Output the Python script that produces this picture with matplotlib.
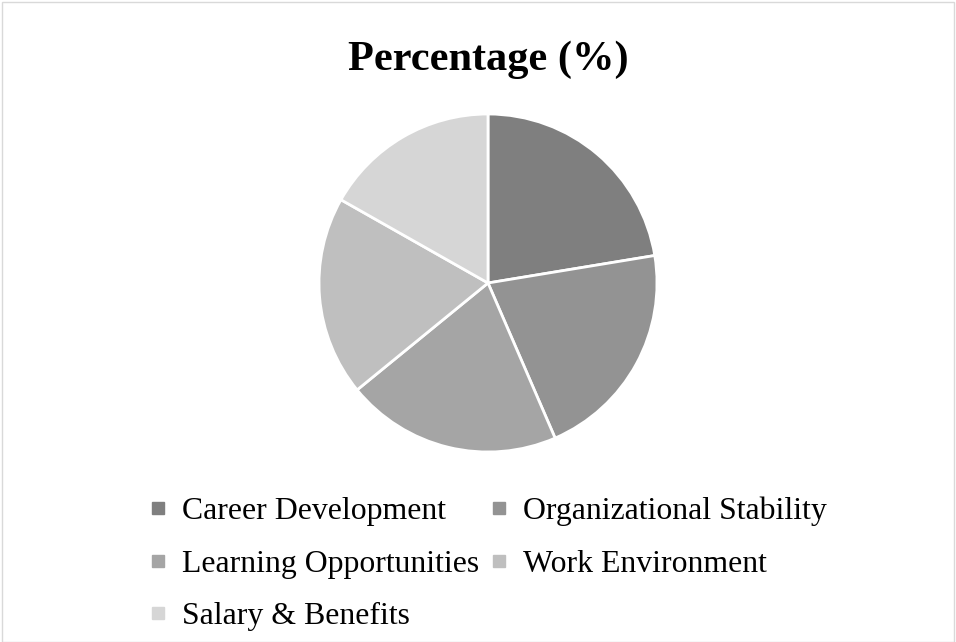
import matplotlib.pyplot as plt
from matplotlib.lines import Line2D
from matplotlib.patches import Rectangle

plt.rcParams['font.family'] = ['Liberation Serif', 'DejaVu Serif']

# data
categories = ['Career Development', 'Organizational Stability',
              'Learning Opportunities', 'Work Environment', 'Salary & Benefits']
percentages = [22.4, 21.1, 20.6, 19.1, 16.8]
colors = ['#7f7f7f', '#939393', '#a5a5a5', '#bfbfbf', '#d6d6d6']

W, H = 956, 642
fig = plt.figure(figsize=(W / 100, H / 100), dpi=100)

# light frame around the chart area
fig.patches.append(Rectangle((0.002, 0.0), 0.996, 0.997, transform=fig.transFigure,
                             fill=False, edgecolor='#d9d9d9', linewidth=1.0))

# pie axes: center (488, 283) px, radius 169 px
cx, cy, r = 488, 283, 169
ax = fig.add_axes([(cx - r) / W, (H - cy - r) / H, 2 * r / W, 2 * r / H])
ax.pie(percentages, colors=colors, startangle=90, counterclock=False, radius=1,
       wedgeprops=dict(edgecolor='white', linewidth=2.0))
ax.set_xlim(-1, 1)
ax.set_ylim(-1, 1)
ax.set_aspect('equal')
ax.axis('off')

fig.text(cx / W, 1 - 60 / H, 'Percentage (%)', ha='center', va='center',
         fontsize=30.5, fontweight='bold')

handles = [Line2D([], [], marker='s', linestyle='none', markersize=8,
                  markerfacecolor=c, markeredgecolor=c) for c in colors]
# order so that ncol=2 fills row-wise like the original
order = [0, 2, 4, 1, 3]
leg = fig.legend([handles[i] for i in order], [categories[i] for i in order],
                 loc='upper left', bbox_to_anchor=(150 / W, 1 - 497 / H),
                 ncol=2, frameon=False, fontsize=22.9,
                 handlelength=0.5, handletextpad=0.5, columnspacing=0.38,
                 labelspacing=0.72, borderpad=0, borderaxespad=0)

fig.savefig('out.png', dpi=100, facecolor='white')
